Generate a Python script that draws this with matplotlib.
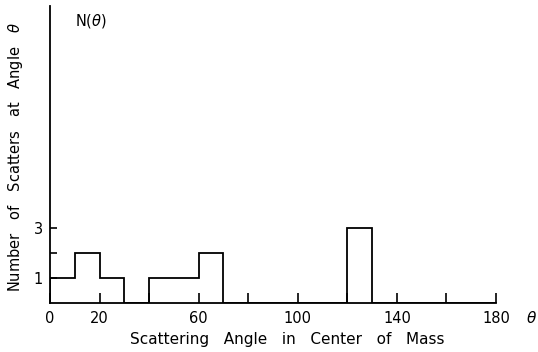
import numpy as np
import matplotlib
matplotlib.use("Agg")
import matplotlib.pyplot as plt

# histogram of scatters, 10 degree bins
bin_edges = [0, 10, 20, 30, 40, 50, 60, 70, 80, 90, 100, 110, 120, 130, 140, 150, 160, 170, 180]
counts = [1, 2, 1, 0, 1, 1, 2, 0, 0, 0, 0, 0, 3, 0, 0, 0, 0, 0]

x_ticks = [0, 20, 40, 60, 80, 100, 120, 140, 160, 180]
x_labels = ["0", "20", "", "60", "", "100", "", "140", "", "180"]
y_ticks = [1, 2, 3]
y_labels = ["1", "", "3"]

plt.rcParams['font.family'] = ['DejaVu Sans']

fig = plt.figure(figsize=(5.38, 3.52), dpi=100)
ax = fig.add_axes([50 / 538, 49 / 352, 446 / 538, 297 / 352])

# step outline, going back to zero between groups
ax.stairs(counts, bin_edges, color="black", linewidth=1.3)

ax.set_xlim(0, 180)
ax.set_ylim(0, 11.9)
ax.spines['top'].set_visible(False)
ax.spines['right'].set_visible(False)
ax.spines['left'].set_linewidth(1.3)
ax.spines['bottom'].set_linewidth(1.3)

ax.set_xticks(x_ticks)
ax.set_xticklabels(x_labels, fontsize=10.5)
ax.set_yticks(y_ticks)
ax.set_yticklabels(y_labels, fontsize=10.5)
ax.tick_params(axis='x', direction='in', length=7, width=1.2, pad=6)
ax.tick_params(axis='y', direction='in', length=5, width=1.2, pad=5)

ax.set_xlabel("Scattering   Angle   in   Center   of   Mass", fontsize=11)
ax.xaxis.set_label_coords(0.531, -29 / 297)
ax.set_ylabel("Number   of   Scatters   at   Angle   $\\theta$", fontsize=10.5)
ax.yaxis.set_label_coords(-25 / 446, 0.49)
ax.text(10, 11.1, "N($\\theta$)", fontsize=10.5)
ax.text(532, 352 - 318, "$\\theta$", transform=None, fontsize=11, ha="center", va="center")

fig.savefig("out.png", dpi=100)
